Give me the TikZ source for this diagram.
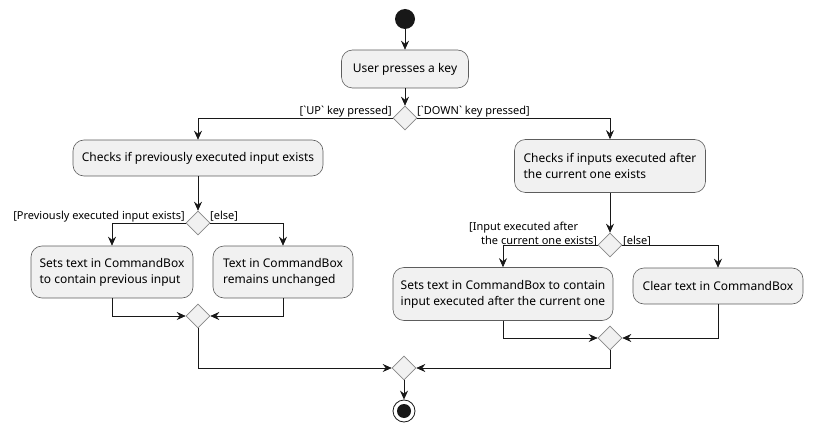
\documentclass[tikz,border=0pt]{standalone}
\usepackage{fontspec}
\setmainfont{Noto Sans}
\usetikzlibrary{shapes.geometric,arrows.meta}
\definecolor{boxfill}{HTML}{F1F1F1}
\definecolor{linec}{HTML}{181818}
\definecolor{dborder}{HTML}{888888}
\tikzset{
  act/.style={draw=linec!70, line width=0.6pt, fill=boxfill, rounded corners=11pt, align=left, font=\fontsize{12}{16}\selectfont, inner sep=0pt},
  dec/.style={draw=dborder, line width=0.6pt, fill=boxfill, shape=diamond, minimum width=24pt, minimum height=24pt, inner sep=0pt},
  flow/.style={draw=linec, line width=0.7pt, -{Stealth[length=9pt,width=8pt,inset=3pt]}},
  plain/.style={draw=linec, line width=0.7pt},
  lbl/.style={font=\fontsize{11}{14}\selectfont, inner sep=0pt, align=right},
}
\begin{document}
\begin{tikzpicture}[x=1pt,y=-1pt]
\useasboundingbox (0,0) rectangle (814,433);
% start
\node[circle, fill=linec, minimum size=20pt, inner sep=0pt] (start) at (405,19) {};
\node[act, minimum width=127pt, minimum height=38pt] (user) at (405,69) {User presses a key};
\node[dec] (d1) at (405,118) {};
% left branch
\node[act, minimum width=250pt, minimum height=36pt] (prev) at (198,158) {Checks if previously executed input exists};
\node[dec] (d2) at (198,223) {};
\node[act, minimum width=162pt, minimum height=52pt] (setprev) at (112,272) {Sets text in CommandBox\\to contain previous input};
\node[act, minimum width=140pt, minimum height=52pt] (unch) at (283,272) {Text in CommandBox\\remains unchanged};
\node[dec] (m1) at (198,316) {};
% right branch
\node[act, minimum width=191pt, minimum height=53pt] (next) at (610,166) {Checks if inputs executed after\\the current one exists};
\node[dec] (d3) at (610,245) {};
\node[act, minimum width=220pt, minimum height=53pt] (setnext) at (503,294) {Sets text in CommandBox to contain\\input executed after the current one};
\node[act, minimum width=170pt, minimum height=36pt] (clear) at (718,286) {Clear text in CommandBox};
\node[dec] (m2) at (610,338) {};
% final
\node[dec] (fin) at (404,368) {};
\node[circle, draw=linec, line width=0.8pt, fill=white, minimum size=22pt, inner sep=0pt] (endo) at (404,411) {};
\node[circle, fill=linec, minimum size=14pt, inner sep=0pt] (endi) at (404,411) {};
% labels
\node[lbl, anchor=base east] (l1) at (392,115) {[\textasciigrave UP\textasciigrave{} key pressed]};
\node[lbl, anchor=base west] (l2) at (417,115) {[\textasciigrave DOWN\textasciigrave{} key pressed]};
\node[lbl, anchor=base east] (l3) at (185,219) {[Previously executed input exists]};
\node[lbl, anchor=base west] (l4) at (210,219) {[else]};
\node[lbl, anchor=base west, align=left] (l5) at (469,244) {[Input executed after\\\hspace*{12pt}the current one exists]};
\node[lbl, anchor=base west] (l6) at (623,244) {[else]};
% connectors
\draw[flow] (start) -- (user);
\draw[flow] (user) -- (d1);
\draw[flow] (d1.west) -| (prev.north);
\draw[flow] (d1.east) -| (next.north);
\draw[flow] (prev) -- (d2);
\draw[flow] (d2.west) -| (setprev.north);
\draw[flow] (d2.east) -| (unch.north);
\draw[flow] (setprev.south) |- (m1.west);
\draw[flow] (unch.south) |- (m1.east);
\draw[flow] (next) -- (d3);
\draw[flow] (d3.west) -| (setnext.north);
\draw[flow] (d3.east) -| (clear.north);
\draw[flow] (setnext.south) |- (m2.west);
\draw[flow] (clear.south) |- (m2.east);
\draw[flow] (m1.south) |- (fin.west);
\draw[flow] (m2.south) |- (fin.east);
\draw[flow] (fin) -- (endo);
\end{tikzpicture}
\end{document}
